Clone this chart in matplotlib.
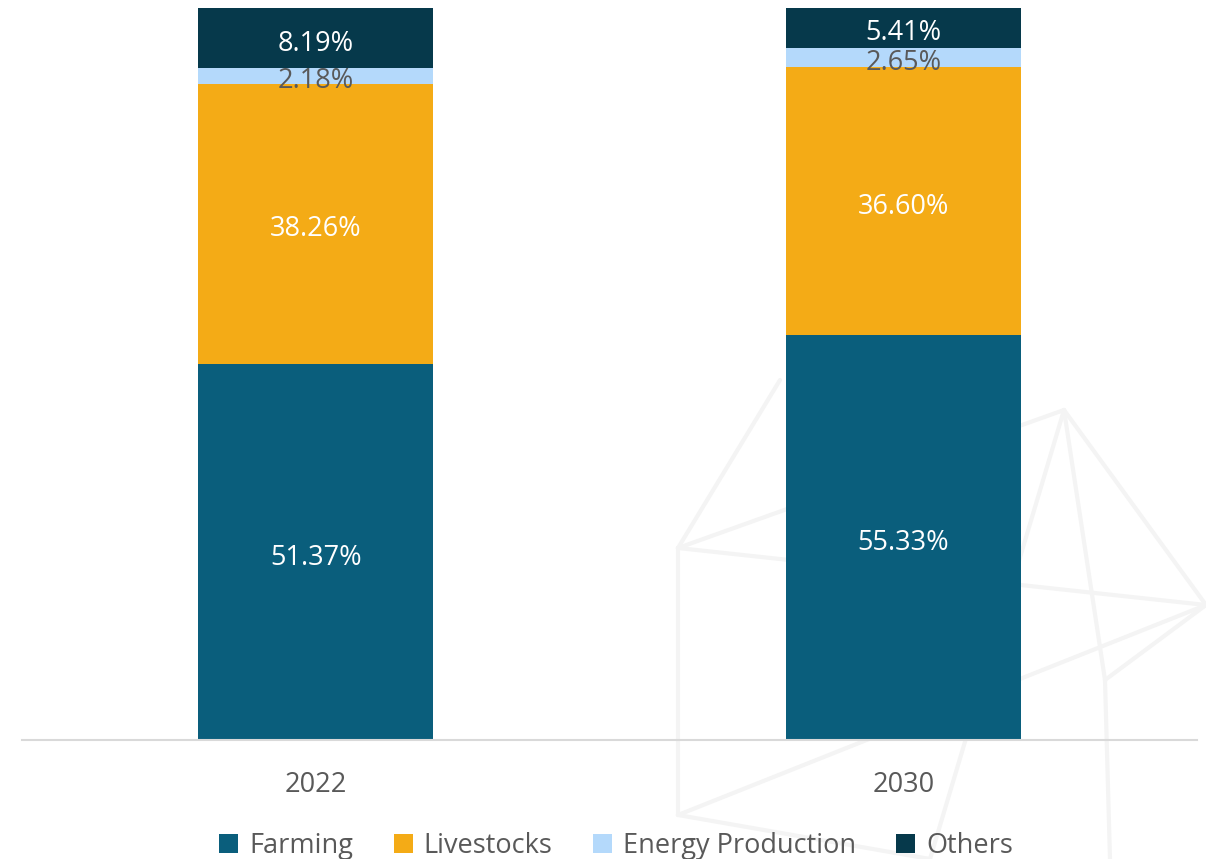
import matplotlib.pyplot as plt
from matplotlib.lines import Line2D
import matplotlib.transforms as mtransforms
import numpy as np

years = ['2022', '2030']
series = ['Farming', 'Livestocks', 'Energy Production', 'Others']
farming = [51.37, 55.33]
livestocks = [38.26, 36.60]
energy = [2.18, 2.65]
others = [8.19, 5.41]

colors = ['#0a5e7c', '#f4ab16', '#b4d9fb', '#06394b']
label_colors = ['white', 'white', '#595959', 'white']
grey = '#595959'

plt.rcParams['font.family'] = ['Open Sans', 'DejaVu Sans']

fig = plt.figure(figsize=(12.06, 8.59), dpi=100)

# faint network watermark in the background (figure pixel coords)
W, H = 1206, 859
nodes = {'a': (678, 548), 'b': (1064, 410), 'c': (1206, 605), 'd': (678, 815),
         'e': (780, 380), 'f': (1110, 859), 'g': (1105, 680), 'h': (930, 859)}
edges = [('a', 'b'), ('a', 'd'), ('b', 'c'), ('b', 'g'), ('g', 'f'), ('a', 'c'),
         ('a', 'e'), ('d', 'h'), ('c', 'g'), ('b', 'h'), ('d', 'c')]
for p, q in edges:
    (x1, y1), (x2, y2) = nodes[p], nodes[q]
    fig.add_artist(Line2D([x1 / W, x2 / W], [1 - y1 / H, 1 - y2 / H],
                          color='#f4f4f4', lw=3, zorder=0, solid_capstyle='round'))

ax = fig.add_axes([22 / W, 119 / H, 1175 / W, 732 / H])
ax.patch.set_alpha(0)

# nudge value labels a few pixels down inside their segments
label_tf = ax.transData + mtransforms.ScaledTranslation(0, -4 / 72, fig.dpi_scale_trans)

x = np.arange(len(years))
values = [farming, livestocks, energy, others]
bottom = np.zeros(len(years))
for name, vals, col, lc in zip(series, values, colors, label_colors):
    vals = np.array(vals)
    ax.bar(x, vals, 0.4, bottom=bottom, color=col, label=name, zorder=2)
    for xi, b, v in zip(x, bottom, vals):
        ax.text(xi, b + v / 2, f'{v:.2f}%', ha='center', va='center',
                color=lc, fontsize=19.5, zorder=3, transform=label_tf)
    bottom += vals

ax.set_xlim(-0.5, 1.5)
ax.set_ylim(0, 100)
ax.set_xticks(x)
ax.set_xticklabels(years, fontsize=19.5, color=grey)
ax.tick_params(axis='x', length=0, pad=22)
ax.set_yticks([])
for s in ['top', 'right', 'left']:
    ax.spines[s].set_visible(False)
ax.spines['bottom'].set_color('#d9d9d9')
ax.spines['bottom'].set_linewidth(1.5)

leg = fig.legend(loc='lower center', bbox_to_anchor=(0.511, -0.03), ncol=4,
                 frameon=False, fontsize=19.5, handlelength=0.7, handleheight=0.7,
                 handletextpad=0.4, columnspacing=1.5)
for t in leg.get_texts():
    t.set_color(grey)

fig.savefig('out.png', dpi=100)
